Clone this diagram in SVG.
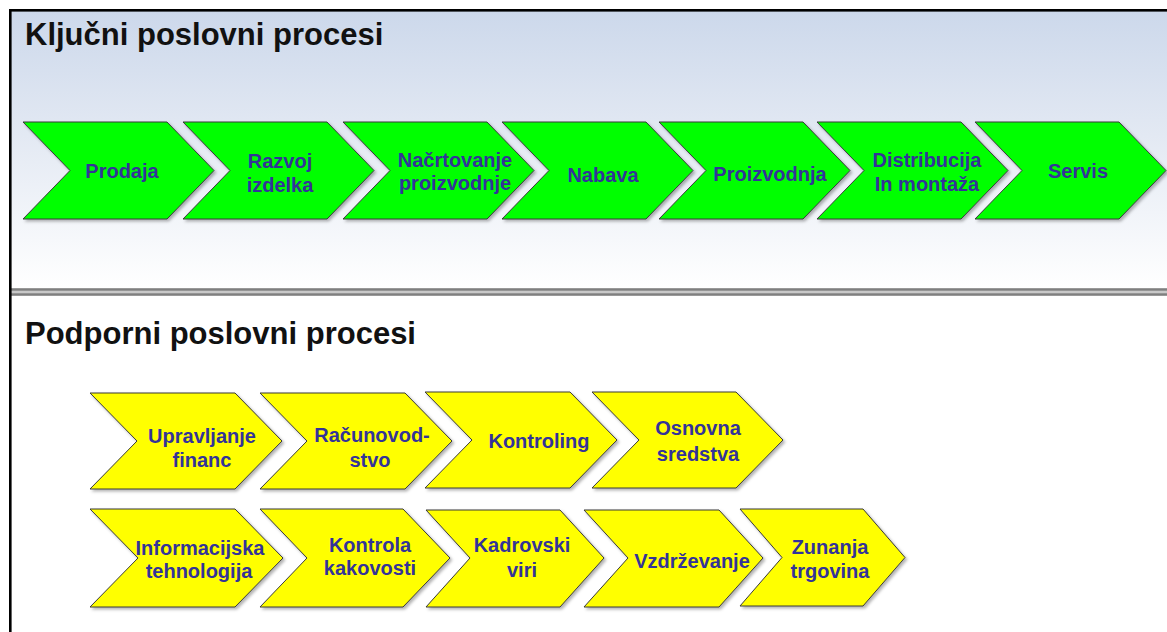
<svg xmlns="http://www.w3.org/2000/svg" width="1167" height="632" viewBox="0 0 1167 632">
  <defs>
    <linearGradient id="skyFade" x1="0" y1="0" x2="0" y2="1">
      <stop offset="0" stop-color="#ccd8eb"/>
      <stop offset="0.45" stop-color="#e3e9f3"/>
      <stop offset="1" stop-color="#ffffff"/>
    </linearGradient>
    <filter id="shade" x="-10%" y="-10%" width="125%" height="130%">
      <feDropShadow dx="2" dy="2" stdDeviation="1.5" flood-color="#000" flood-opacity="0.3"/>
    </filter>
    <style>
      .title { font-family: "Liberation Sans", Arial, sans-serif; font-weight: bold; font-size: 31px; fill: #111; }
      .lbl { font-family: "Liberation Sans", Arial, sans-serif; font-weight: bold; font-size: 20px; fill: #333399; text-anchor: middle; }
      .key { fill: #00ff00; stroke: #3a3a3a; stroke-width: 1; filter: url(#shade); }
      .sup { fill: #ffff00; stroke: #3a3a3a; stroke-width: 1; filter: url(#shade); }
    </style>
  </defs>

  <!-- page background -->
  <rect x="0" y="0" width="1167" height="632" fill="#ffffff"/>
  <rect x="10" y="10" width="1157" height="279" fill="url(#skyFade)"/>

  <!-- separator between the two sections -->
  <rect x="10" y="288.3" width="1157" height="7.4" fill="#c8c8c8"/>
  <rect x="10" y="288.3" width="1157" height="2.4" fill="#7f7f7f"/>
  <rect x="10" y="293.3" width="1157" height="2.4" fill="#7f7f7f"/>

  <!-- frame -->
  <rect x="9" y="9" width="1158" height="2.6" fill="#000"/>
  <rect x="9" y="9" width="2.6" height="623" fill="#000"/>

  <text class="title" x="25" y="45">Ključni poslovni procesi</text>
  <text class="title" x="25" y="344">Podporni poslovni procesi</text>

  <!-- key processes -->
  <g id="prodaja">
    <polygon class="key" points="23,122 167,122 214,170.5 167,219 23,219 70,170.5"/>
    <text class="lbl" x="122" y="178">Prodaja</text>
  </g>
  <g id="razvoj-izdelka">
    <polygon class="key" points="183,122 327,122 374,170.5 327,219 183,219 230,170.5"/>
    <text class="lbl" x="280" y="168">Razvoj</text>
    <text class="lbl" x="280" y="192">izdelka</text>
  </g>
  <g id="nacrtovanje-proizvodnje">
    <polygon class="key" points="343,122 487,122 534,170.5 487,219 343,219 390,170.5"/>
    <text class="lbl" x="455" y="167">Načrtovanje</text>
    <text class="lbl" x="455" y="190">proizvodnje</text>
  </g>
  <g id="nabava">
    <polygon class="key" points="502,122 646,122 693,170.5 646,219 502,219 549,170.5"/>
    <text class="lbl" x="603" y="182">Nabava</text>
  </g>
  <g id="proizvodnja">
    <polygon class="key" points="659,122 803,122 850,170.5 803,219 659,219 706,170.5"/>
    <text class="lbl" x="770" y="181">Proizvodnja</text>
  </g>
  <g id="distribucija">
    <polygon class="key" points="817,122 961,122 1008,170.5 961,219 817,219 864,170.5"/>
    <text class="lbl" x="927" y="167">Distribucija</text>
    <text class="lbl" x="927" y="191">In montaža</text>
  </g>
  <g id="servis">
    <polygon class="key" points="975,122 1119,122 1166,170.5 1119,219 975,219 1022,170.5"/>
    <text class="lbl" x="1078" y="178">Servis</text>
  </g>

  <!-- supporting processes, first row -->
  <g id="upravljanje-financ">
    <polygon class="sup" points="90,393 235,393 282,441 235,489 90,489 137,441"/>
    <text class="lbl" x="202" y="443">Upravljanje</text>
    <text class="lbl" x="202" y="467">financ</text>
  </g>
  <g id="racunovodstvo">
    <polygon class="sup" points="260,393 405,393 452,441 405,489 260,489 307,441"/>
    <text class="lbl" x="372" y="442">Računovod-</text>
    <text class="lbl" x="370" y="467">stvo</text>
  </g>
  <g id="kontroling">
    <polygon class="sup" points="425,392 570,392 617,440 570,488 425,488 472,440"/>
    <text class="lbl" x="539" y="448">Kontroling</text>
  </g>
  <g id="osnovna-sredstva">
    <polygon class="sup" points="592,392 736,392 783,440 736,488 592,488 639,440"/>
    <text class="lbl" x="698" y="435">Osnovna</text>
    <text class="lbl" x="698" y="461">sredstva</text>
  </g>

  <!-- supporting processes, second row -->
  <g id="informacijska-tehnologija">
    <polygon class="sup" points="90,509 235,509 283,558 235,607 90,607 138,558"/>
    <text class="lbl" x="200" y="555">Informacijska</text>
    <text class="lbl" x="199" y="578">tehnologija</text>
  </g>
  <g id="kontrola-kakovosti">
    <polygon class="sup" points="260,509 403,509 450,558 403,607 260,607 307,558"/>
    <text class="lbl" x="370" y="552">Kontrola</text>
    <text class="lbl" x="370" y="575">kakovosti</text>
  </g>
  <g id="kadrovski-viri">
    <polygon class="sup" points="426,510 560,510 604,558 560,607 426,607 470,558"/>
    <text class="lbl" x="522" y="552">Kadrovski</text>
    <text class="lbl" x="522" y="577">viri</text>
  </g>
  <g id="vzdrzevanje">
    <polygon class="sup" points="584,510 719,510 763,558 719,607 584,607 628,558"/>
    <text class="lbl" x="692" y="568">Vzdrževanje</text>
  </g>
  <g id="zunanja-trgovina">
    <polygon class="sup" points="740,509 863,509 905,557.5 863,606 740,606 782,557.5"/>
    <text class="lbl" x="830" y="554">Zunanja</text>
    <text class="lbl" x="830" y="578">trgovina</text>
  </g>

  <!-- the process chains have no separate connectors -->
  <g id="connectors"/>
</svg>
